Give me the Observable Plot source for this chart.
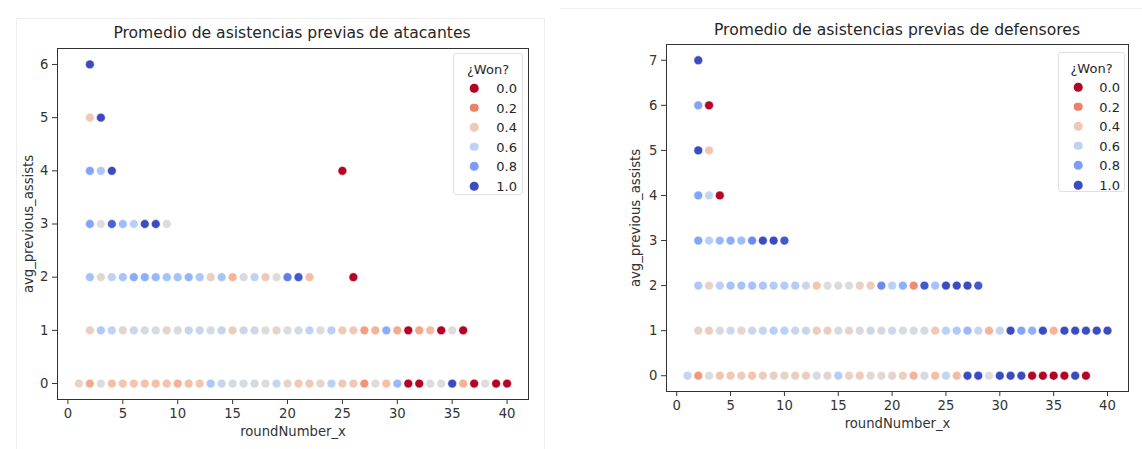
<!DOCTYPE html>
<html>
<head>
<meta charset="utf-8">
<script src="https://cdn.jsdelivr.net/npm/d3@7"></script>
<script src="https://cdn.jsdelivr.net/npm/@observablehq/plot@0.6"></script>
<style>
  html, body { margin: 0; padding: 0; background: #fff; }
  #root { position: relative; width: 1142px; height: 449px; overflow: hidden; background: #fff; font-family: "DejaVu Sans", sans-serif; }
  .panel { position: absolute; top: 0; }
  .title { position: absolute; font-size: 15.6px; color: #262626; white-space: nowrap; transform: translate(-50%, -50%); }
  .legend { position: absolute; background: rgba(255,255,255,0.85); border: 1px solid #e0e0e0; border-radius: 3px; font-size: 13px; color: #262626; }
  .legend .lt { position: absolute; left: 0; right: 0; text-align: center; transform: translateY(-50%); }
  .legend .sw { position: absolute; width: 8.6px; height: 8.6px; border-radius: 50%; transform: translate(-50%, -50%); }
  .legend .lb { position: absolute; transform: translateY(-50%); text-align: right; }
  .border { position: absolute; background: #eeeeee; }
</style>
</head>
<body>
<div id="root"></div>
<script>
// ---------- data: atacantes (left) ----------
const atkRounds0 = [1,2,3,4,5,6,7,8,9,10,11,12,13,14,15,16,17,18,19,20,21,22,23,24,25,26,27,28,29,30,31,32,33,34,35,36,37,38,39,40];
const atkWon0    = [0.45,0.3,0.5,0.36,0.38,0.38,0.37,0.36,0.37,0.32,0.36,0.38,0.66,0.58,0.52,0.52,0.53,0.5,0.57,0.46,0.4,0.4,0.47,0.62,0.4,0.4,0.24,0.5,0.36,0.72,0,0,0.5,0.5,1,0.32,0,0.5,0,0];
const atkRounds1 = [2,3,4,5,6,7,8,9,10,11,12,13,14,15,16,17,18,19,20,21,22,23,24,25,26,27,28,29,30,31,32,33,34,35,36];
const atkWon1    = [0.44,0.65,0.6,0.47,0.56,0.53,0.51,0.46,0.51,0.57,0.57,0.53,0.58,0.42,0.56,0.55,0.5,0.46,0.5,0.53,0.6,0.5,0.62,0.41,0.4,0.27,0.33,0.76,0.3,0,0.28,0.35,0,0.5,0];
const atkRounds2 = [2,3,4,5,6,7,8,9,10,11,12,13,14,15,16,17,18,19,20,21,22,26];
const atkWon2    = [0.68,0.47,0.6,0.67,0.76,0.75,0.72,0.68,0.68,0.73,0.66,0.43,0.67,0.33,0.52,0.6,0.4,0.5,0.88,0.97,0.36,0];
const atkRounds3 = [2,3,4,5,6,7,8,9];
const atkWon3    = [0.78,0.5,0.95,0.7,0.62,1,1,0.5];
const atkRounds4 = [2,3,4,25];
const atkWon4    = [0.78,0.66,1,0];
const atkRounds5 = [2,3];
const atkWon5    = [0.4,1];
const atkRounds6 = [2];
const atkWon6    = [1];

// ---------- data: defensores (right) ----------
const defRounds0 = [1,2,3,4,5,6,7,8,9,10,11,12,13,14,15,16,17,18,19,20,21,22,23,24,25,26,27,28,29,30,31,32,33,34,35,36,37,38];
const defWon0    = [0.58,0.25,0.5,0.38,0.4,0.42,0.38,0.42,0.43,0.45,0.42,0.42,0.52,0.46,0.64,0.45,0.42,0.48,0.48,0.47,0.43,0.33,0.52,0.36,0.58,0.35,1,1,0.5,1,1,1,0,0,0,0,1,0];
const defRounds1 = [2,3,4,5,6,7,8,9,10,11,12,13,14,15,16,17,18,19,20,21,22,23,24,25,26,27,28,29,30,31,32,33,34,35,36,37,38,39,40];
const defWon1    = [0.46,0.42,0.52,0.55,0.47,0.56,0.58,0.63,0.62,0.57,0.57,0.42,0.42,0.52,0.46,0.52,0.55,0.53,0.55,0.52,0.52,0.52,0.4,0.62,0.65,0.72,0.57,0.33,0.58,1,0.78,0.75,1,0.33,1,1,1,1,1];
const defRounds2 = [2,3,4,5,6,7,8,9,10,11,12,13,14,15,16,17,18,19,20,21,22,23,24,25,26,27,28];
const defWon2    = [0.66,0.45,0.62,0.68,0.68,0.68,0.66,0.64,0.64,0.64,0.56,0.38,0.5,0.52,0.5,0.45,0.42,0.85,0.62,0.75,0.22,0.97,0.68,1,1,1,0.97];
const defRounds3 = [2,3,4,5,6,7,8,9,10];
const defWon3    = [0.78,0.62,0.72,0.76,0.7,0.85,1,1,0.97];
const defRounds4 = [2,3,4];
const defWon4    = [0.78,0.58,0];
const defRounds5 = [2,3];
const defWon5    = [1,0.38];
const defRounds6 = [2,3];
const defWon6    = [0.78,0];
const defRounds7 = [2];
const defWon7    = [1];

// ---------- labels / ticks ----------
const titleAtk = "Promedio de asistencias previas de atacantes";
const titleDef = "Promedio de asistencias previas de defensores";
const xLabel = "roundNumber_x";
const yLabel = "avg_previous_assists";
const legendTitle = "¿Won?";
const legendValues = [0.0, 0.2, 0.4, 0.6, 0.8, 1.0];
const xTicks = [0,5,10,15,20,25,30,35,40];
const yTicksAtk = [0,1,2,3,4,5,6];
const yTicksDef = [0,1,2,3,4,5,6,7];
// coolwarm_r anchors (won = 0 -> red, won = 1 -> blue)
const coolwarmR = ["#b40426","#de604d","#f4987a","#f5c4ac","#dddcdc","#b8d0f9","#8db0fe","#6282ea","#3b4cc0"];

function build(roundsList, wonList) {
  const rows = [];
  roundsList.forEach((rounds, yi) => {
    rounds.forEach((r, i) => rows.push({round: r, assists: yi, won: wonList[yi][i]}));
  });
  return rows;
}
const atkData = build([atkRounds0,atkRounds1,atkRounds2,atkRounds3,atkRounds4,atkRounds5,atkRounds6],
                      [atkWon0,atkWon1,atkWon2,atkWon3,atkWon4,atkWon5,atkWon6]);
const defData = build([defRounds0,defRounds1,defRounds2,defRounds3,defRounds4,defRounds5,defRounds6,defRounds7],
                      [defWon0,defWon1,defWon2,defWon3,defWon4,defWon5,defWon6,defWon7]);

const interp = d3.piecewise(d3.interpolateRgb, coolwarmR);
const intFmt = d => String(d);

function panel(data, yTicks, yMax, cfg) {
  const m = 0.05;
  return Plot.plot({
    width: cfg.width, height: cfg.height,
    marginLeft: cfg.ml, marginRight: cfg.mr, marginTop: cfg.mt, marginBottom: cfg.mb,
    style: {fontFamily: "DejaVu Sans, sans-serif", fontSize: "13.2px", color: "#333", background: "white", overflow: "visible"},
    x: {domain: [1 - 39*m, 40 + 39*m], ticks: xTicks, tickFormat: intFmt, tickSize: 5, tickPadding: 4,
        label: xLabel, labelAnchor: "center", labelArrow: "none", labelOffset: cfg.xlo},
    y: {domain: [0 - yMax*m, yMax + yMax*m], ticks: yTicks, tickFormat: intFmt, tickSize: 5, tickPadding: 4,
        label: yLabel, labelAnchor: "center", labelArrow: "none", labelOffset: cfg.ylo},
    color: {type: "linear", domain: [0, 1], interpolate: interp},
    marks: [
      Plot.frame({stroke: "#333", strokeWidth: 1}),
      Plot.dot(data, {x: "round", y: "assists", fill: "won", r: 4.4, stroke: "white", strokeWidth: 0.5})
    ]
  });
}

const root = document.getElementById("root");

function addBorder(l, t, w, h) {
  const d = document.createElement("div");
  d.className = "border";
  Object.assign(d.style, {left: l+"px", top: t+"px", width: w+"px", height: h+"px"});
  root.appendChild(d);
}

const left = panel(atkData, yTicksAtk, 6, {width: 545, height: 449, ml: 57, mr: 17, mt: 48, mb: 50, xlo: 36, ylo: 34});
const leftWrap = document.createElement("div");
leftWrap.className = "panel"; leftWrap.style.left = "0px";
leftWrap.appendChild(left); root.appendChild(leftWrap);

const right = panel(defData, yTicksDef, 7, {width: 597, height: 449, ml: 121, mr: 14, mt: 44, mb: 58, xlo: 36, ylo: 36});
const rightWrap = document.createElement("div");
rightWrap.className = "panel"; rightWrap.style.left = "545px";
rightWrap.appendChild(right); root.appendChild(rightWrap);

addBorder(16, 18, 1, 431);
addBorder(16, 18, 528, 1);
addBorder(544, 18, 1, 431);
addBorder(560, 8, 582, 1);

function addTitle(text, cx, cy) {
  const t = document.createElement("div");
  t.className = "title"; t.textContent = text;
  t.style.left = cx + "px"; t.style.top = cy + "px";
  root.appendChild(t);
}
addTitle(titleAtk, 292, 33);
addTitle(titleDef, 897, 30);

function addLegend(plot, l, t, w, h, swX, lbR) {
  const color = plot.scale("color");
  const box = document.createElement("div");
  box.className = "legend";
  Object.assign(box.style, {left: l+"px", top: t+"px", width: w+"px", height: h+"px"});
  const lt = document.createElement("div");
  lt.className = "lt"; lt.textContent = legendTitle; lt.style.top = "15px";
  box.appendChild(lt);
  legendValues.forEach((v, i) => {
    const cy = 34 + 19.6 * i;
    const sw = document.createElement("div");
    sw.className = "sw";
    sw.style.left = swX + "px"; sw.style.top = cy + "px";
    sw.style.background = color.apply(v);
    box.appendChild(sw);
    const lb = document.createElement("div");
    lb.className = "lb"; lb.textContent = v.toFixed(1);
    lb.style.right = (w - lbR) + "px"; lb.style.top = cy + "px";
    box.appendChild(lb);
  });
  root.appendChild(box);
}
addLegend(left, 453, 53, 68, 140, 20, 63);
addLegend(right, 1058, 52, 65, 138, 19, 61);
</script>
</body>
</html>
